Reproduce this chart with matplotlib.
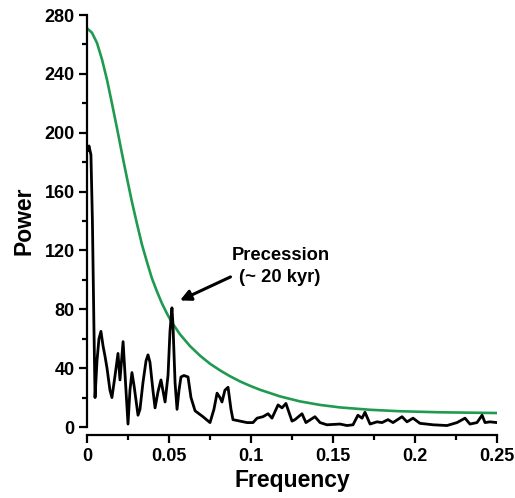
import matplotlib
matplotlib.use("Agg")
import matplotlib.pyplot as plt
from matplotlib.ticker import MultipleLocator

plt.rcParams['font.family'] = ['Liberation Sans', 'DejaVu Sans']
plt.rcParams['font.weight'] = 'bold'

# Black spectrum: frequency and power (rows of 10)
spec_freq = [0.0006, 0.0012, 0.0024, 0.0033, 0.0042, 0.0049, 0.0061, 0.0073, 0.0085, 0.0098,
             0.0110, 0.0122, 0.0140, 0.0152, 0.0171, 0.0189, 0.0201, 0.0220, 0.0250, 0.0262,
             0.0274, 0.0287, 0.0311, 0.0323, 0.0341, 0.0360, 0.0372, 0.0384, 0.0402, 0.0415,
             0.0433, 0.0451, 0.0476, 0.0494, 0.0506, 0.0518, 0.0524, 0.0537, 0.0549, 0.0561,
             0.0573, 0.0591, 0.0616, 0.0634, 0.0659, 0.0707, 0.0750, 0.0774, 0.0793, 0.0811,
             0.0823, 0.0841, 0.0860, 0.0878, 0.0890, 0.0933, 0.0976, 0.1012, 0.1037, 0.1073,
             0.1104, 0.1128, 0.1165, 0.1189, 0.1213, 0.1250, 0.1268, 0.1311, 0.1335, 0.1390,
             0.1421, 0.1463, 0.1543, 0.1585, 0.1622, 0.1652, 0.1677, 0.1695, 0.1726, 0.1768,
             0.1799, 0.1835, 0.1866, 0.1921, 0.1951, 0.1988, 0.2030, 0.2110, 0.2195, 0.2256,
             0.2305, 0.2335, 0.2378, 0.2409, 0.2427, 0.2457, 0.2500]
spec_power = [188, 191, 185, 140, 70, 20, 45, 60, 65, 55,
              48, 40, 25, 20, 35, 50, 32, 58, 2, 25,
              37, 28, 8, 12, 30, 45, 49, 44, 25, 13,
              24, 32, 17, 35, 65, 81, 70, 30, 12, 25,
              34, 35, 34, 20, 11, 7, 3, 12, 23, 20,
              17, 25, 27, 12, 5, 4, 3, 3, 6, 7,
              9, 6, 15, 13, 16, 4, 5, 9, 3, 7,
              3, 1.5, 2, 1, 1.5, 8, 6, 10, 2, 3.5,
              3, 5, 3, 7, 3.5, 6, 2.5, 1.5, 1, 3,
              6, 2, 3, 8, 3, 3.5, 3]

# Green red-noise curve
noise_freq = [0.0, 0.0030, 0.0061, 0.0091, 0.0122, 0.0152, 0.0183, 0.0213, 0.0244,
              0.0274, 0.0305, 0.0335, 0.0366, 0.0396, 0.0427, 0.0457, 0.0488, 0.0518,
              0.0567, 0.0628, 0.0689, 0.0750, 0.0811, 0.0872, 0.0933, 0.0994, 0.1055,
              0.1177, 0.1299, 0.1421, 0.1543, 0.1726, 0.1909, 0.2152, 0.2500]
noise_power = [271, 268, 261, 250, 236, 220, 203, 186, 169,
               153, 138, 124, 112, 101, 92, 84, 77, 71,
               63, 55, 48.5, 43, 38.5, 34.5, 31, 28, 25.3,
               20.8, 17.4, 15, 13.3, 11.7, 10.7, 10, 9.5]

x_ticks = [0, 0.05, 0.1, 0.15, 0.2, 0.25]
x_tick_labels = ['0', '0.05', '0.1', '0.15', '0.2', '0.25']
y_ticks = [0, 40, 80, 120, 160, 200, 240, 280]

fig = plt.figure(figsize=(5.15, 4.98), dpi=100)
ax = fig.add_axes([87/515, 71/498, 410/515, 412/498])

ax.plot(noise_freq, noise_power, color='#1f9a50', lw=1.9, zorder=2)
ax.plot(spec_freq, spec_power, color='black', lw=2.0, zorder=3,
        solid_joinstyle='round')

ax.set_xlim(0, 0.25)
ax.set_ylim(0, 280)
ax.set_xticks(x_ticks)
ax.set_xticklabels(x_tick_labels)
ax.set_yticks(y_ticks)
ax.xaxis.set_minor_locator(MultipleLocator(0.025))
ax.yaxis.set_minor_locator(MultipleLocator(20))

for s in ['top', 'right']:
    ax.spines[s].set_visible(False)
for s in ['left', 'bottom']:
    ax.spines[s].set_linewidth(1.6)
ax.spines['bottom'].set_position(('outward', 6))

ax.tick_params(which='major', direction='out', length=6, width=1.6, pad=3, labelsize=13)
ax.tick_params(which='minor', direction='out', length=3.5, width=1.6)
for lab in ax.get_xticklabels() + ax.get_yticklabels():
    lab.set_fontweight('bold')

ax.set_xlabel('Frequency', fontsize=16.5, fontweight='bold', labelpad=3)
ax.set_ylabel('Power', fontsize=16.5, fontweight='bold', labelpad=6)

ax.text(0.118, 116.5, 'Precession', fontsize=13.2, fontweight='bold',
        ha='center', va='center')
ax.text(0.1175, 101.5, '(~ 20 kyr)', fontsize=13.2, fontweight='bold',
        ha='center', va='center')
ax.annotate('', xy=(0.0567, 86), xytext=(0.0875, 102),
            arrowprops=dict(arrowstyle='-|>', color='black', lw=2.2,
                            mutation_scale=16, shrinkA=0, shrinkB=0))

fig.savefig('out.png', dpi=100)
